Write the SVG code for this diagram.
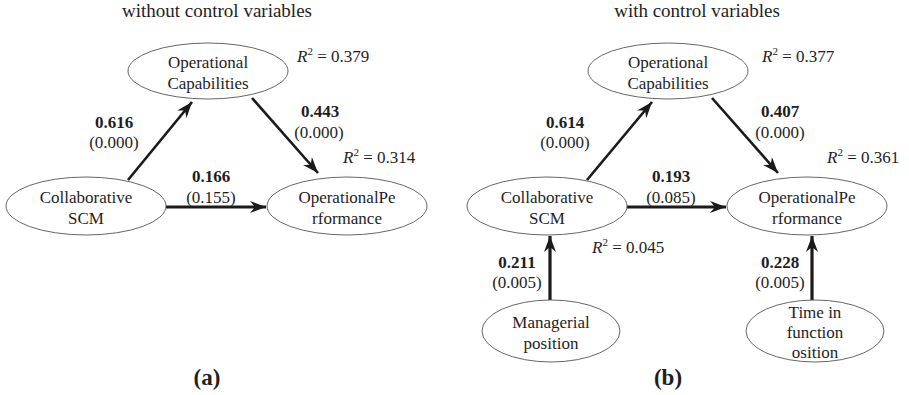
<svg xmlns="http://www.w3.org/2000/svg" width="909" height="395" viewBox="0 0 909 395">
<style>
text{font-family:"Liberation Serif","Times New Roman",serif;fill:#1e1e1e;}
.t{font-size:17px;text-anchor:middle;}
.b{font-size:17px;font-weight:bold;text-anchor:middle;}
.r{font-size:17px;}
.h{font-size:19px;text-anchor:middle;}
.p{font-size:23px;font-weight:bold;text-anchor:middle;}
ellipse{fill:#fff;stroke:#555;stroke-width:0.9;}
.c line{stroke:#1a1a1a;stroke-width:2.6;marker-end:url(#ah);}
.c line.k{stroke-width:3.2;}
</style>
<defs>
<marker id="ah" markerUnits="userSpaceOnUse" markerWidth="17" markerHeight="12" refX="16" refY="6" orient="auto" viewBox="0 0 17 12">
<path d="M0,0 L16,6 L0,12 L5,6 Z" fill="#1a1a1a"/>
</marker>
</defs>
<rect width="909" height="395" fill="#fff"/>
<text class="h" x="217" y="17">without control variables</text>
<text class="h" x="697" y="17">with control variables</text>
<g class="c" id="connectors">
<line x1="128" y1="180" x2="192" y2="102"/>
<line x1="252" y1="98" x2="318" y2="173"/>
<line class="k" x1="166" y1="207" x2="266" y2="207"/>
<line x1="587" y1="180" x2="652" y2="102"/>
<line x1="712" y1="98" x2="778" y2="173"/>
<line class="k" x1="627" y1="207" x2="726" y2="207"/>
<line class="k" x1="550" y1="300" x2="550" y2="236"/>
<line class="k" x1="812" y1="300" x2="812" y2="236"/>
</g>
<g id="a-opcap"><ellipse cx="208" cy="71" rx="80" ry="28"/><text class="t" x="208" y="68">Operational</text><text class="t" x="208" y="89">Capabilities</text></g>
<g id="a-collab"><ellipse cx="86" cy="206" rx="80" ry="29"/><text class="t" x="86" y="203">Collaborative</text><text class="t" x="86" y="224">SCM</text></g>
<g id="a-opperf"><ellipse cx="347" cy="206" rx="80" ry="29"/><text class="t" x="347" y="203">OperationalPe</text><text class="t" x="347" y="224">rformance</text></g>
<g id="b-opcap"><ellipse cx="668" cy="71" rx="80" ry="28"/><text class="t" x="668" y="68">Operational</text><text class="t" x="668" y="89">Capabilities</text></g>
<g id="b-collab"><ellipse cx="547" cy="206" rx="80" ry="29"/><text class="t" x="547" y="203">Collaborative</text><text class="t" x="547" y="224">SCM</text></g>
<g id="b-opperf"><ellipse cx="807" cy="206" rx="80" ry="29"/><text class="t" x="807" y="203">OperationalPe</text><text class="t" x="807" y="224">rformance</text></g>
<g id="b-manager"><ellipse cx="551" cy="331" rx="69" ry="31"/><text class="t" x="551" y="328">Managerial</text><text class="t" x="551" y="349">position</text></g>
<g id="b-time"><ellipse cx="815" cy="331" rx="69" ry="31"/><text class="t" x="815" y="318">Time in</text><text class="t" x="815" y="338">function</text><text class="t" x="815" y="358">osition</text></g>
<g id="labels">
<text class="b" x="114" y="128">0.616</text><text class="t" x="114" y="148">(0.000)</text>
<text class="b" x="320" y="117">0.443</text><text class="t" x="319" y="138">(0.000)</text>
<text class="b" x="211" y="182">0.166</text><text class="t" x="211" y="203">(0.155)</text>
<text class="b" x="565" y="128">0.614</text><text class="t" x="565" y="148">(0.000)</text>
<text class="b" x="780" y="117">0.407</text><text class="t" x="780" y="138">(0.000)</text>
<text class="b" x="671" y="182">0.193</text><text class="t" x="671" y="203">(0.085)</text>
<text class="b" x="517" y="268">0.211</text><text class="t" x="517" y="288">(0.005)</text>
<text class="b" x="780" y="268">0.228</text><text class="t" x="780" y="288">(0.005)</text>
<text class="r" x="297" y="62"><tspan font-style="italic">R</tspan><tspan font-size="11" dy="-7">2</tspan><tspan dy="7"> = 0.379</tspan></text>
<text class="r" x="343" y="163"><tspan font-style="italic">R</tspan><tspan font-size="11" dy="-7">2</tspan><tspan dy="7"> = 0.314</tspan></text>
<text class="r" x="762" y="62"><tspan font-style="italic">R</tspan><tspan font-size="11" dy="-7">2</tspan><tspan dy="7"> = 0.377</tspan></text>
<text class="r" x="827" y="163"><tspan font-style="italic">R</tspan><tspan font-size="11" dy="-7">2</tspan><tspan dy="7"> = 0.361</tspan></text>
<text class="r" x="592" y="253"><tspan font-style="italic">R</tspan><tspan font-size="11" dy="-7">2</tspan><tspan dy="7"> = 0.045</tspan></text>
<text class="p" x="207" y="385">(a)</text>
<text class="p" x="668" y="385">(b)</text>
</g>
</svg>
